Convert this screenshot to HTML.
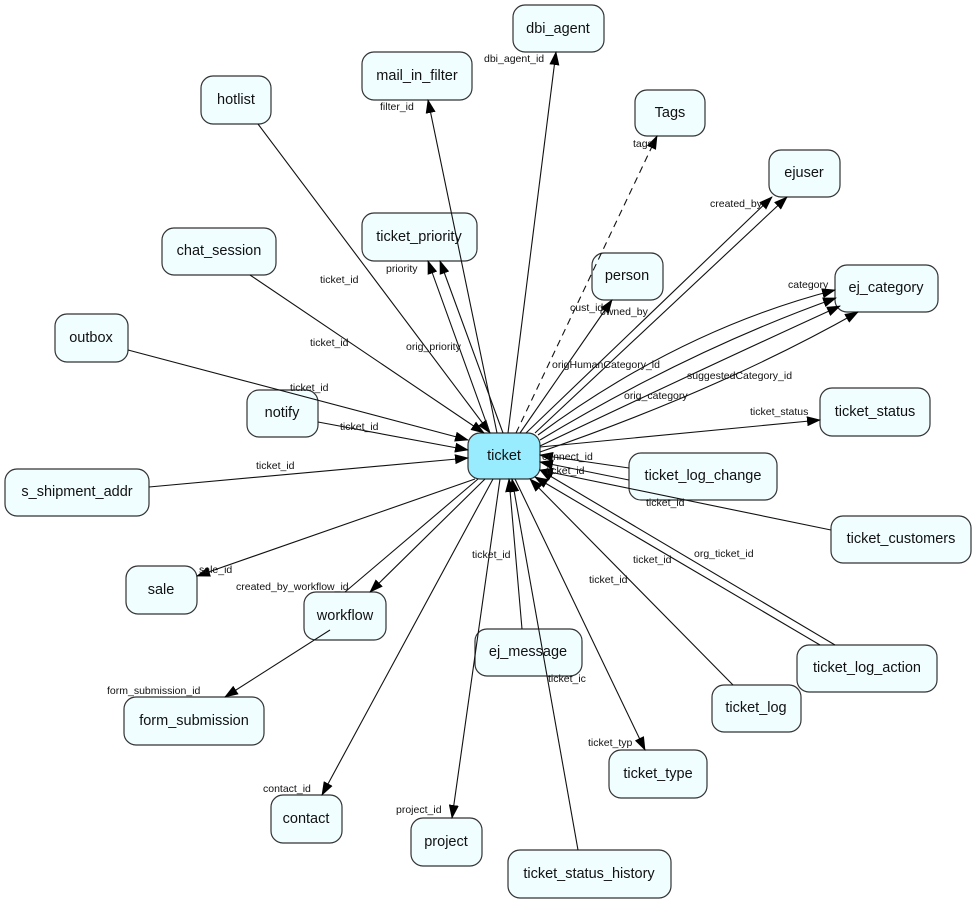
<!DOCTYPE html>
<html><head><meta charset="utf-8"><style>
html,body{margin:0;padding:0;background:#fff;}
svg{display:block;}
.n{fill:#f0feff;stroke:#333;stroke-width:1.2;}
.t{font-family:"Liberation Sans",Arial,sans-serif;font-size:14.5px;fill:#111;text-anchor:middle;dominant-baseline:central;}
.l{font-family:"Liberation Sans",Arial,sans-serif;font-size:10.5px;fill:#111;}
line,path{stroke:#111;stroke-width:1.1;fill:none;}
</style></head><body>
<svg width="976" height="904" viewBox="0 0 976 904" xmlns="http://www.w3.org/2000/svg">
<defs><marker id="a" markerWidth="14" markerHeight="10" refX="13" refY="5" orient="auto" markerUnits="userSpaceOnUse"><path d="M0,0 L14,5 L0,10 z" style="fill:#000;stroke:none"/></marker></defs>
<g>
<rect x="468" y="433" width="72" height="46" rx="12" style="fill:#99ecfd;stroke:#333;stroke-width:1.2"/><text class="t" x="504" y="456">ticket</text>
<rect class="n" x="513" y="5" width="91" height="47" rx="12"/><text class="t" x="558" y="29">dbi_agent</text>
<rect class="n" x="362" y="52" width="110" height="48" rx="12"/><text class="t" x="417" y="76">mail_in_filter</text>
<rect class="n" x="201" y="76" width="70" height="48" rx="12"/><text class="t" x="236" y="100">hotlist</text>
<rect class="n" x="635" y="90" width="70" height="46" rx="12"/><text class="t" x="670" y="113">Tags</text>
<rect class="n" x="769" y="150" width="71" height="47" rx="12"/><text class="t" x="804" y="173">ejuser</text>
<rect class="n" x="362" y="213" width="115" height="48" rx="12"/><text class="t" x="419" y="237">ticket_priority</text>
<rect class="n" x="162" y="228" width="114" height="47" rx="12"/><text class="t" x="219" y="251">chat_session</text>
<rect class="n" x="592" y="253" width="71" height="47" rx="12"/><text class="t" x="627" y="276">person</text>
<rect class="n" x="835" y="265" width="103" height="47" rx="12"/><text class="t" x="886" y="288">ej_category</text>
<rect class="n" x="55" y="314" width="73" height="48" rx="12"/><text class="t" x="91" y="338">outbox</text>
<rect class="n" x="247" y="390" width="71" height="47" rx="12"/><text class="t" x="282" y="413">notify</text>
<rect class="n" x="820" y="388" width="110" height="48" rx="12"/><text class="t" x="875" y="412">ticket_status</text>
<rect class="n" x="629" y="453" width="148" height="47" rx="12"/><text class="t" x="703" y="476">ticket_log_change</text>
<rect class="n" x="5" y="469" width="144" height="47" rx="12"/><text class="t" x="77" y="492">s_shipment_addr</text>
<rect class="n" x="831" y="516" width="140" height="47" rx="12"/><text class="t" x="901" y="539">ticket_customers</text>
<rect class="n" x="126" y="566" width="71" height="48" rx="12"/><text class="t" x="161" y="590">sale</text>
<rect class="n" x="304" y="592" width="82" height="48" rx="12"/><text class="t" x="345" y="616">workflow</text>
<rect class="n" x="475" y="629" width="107" height="47" rx="12"/><text class="t" x="528" y="652">ej_message</text>
<rect class="n" x="797" y="645" width="140" height="47" rx="12"/><text class="t" x="867" y="668">ticket_log_action</text>
<rect class="n" x="124" y="697" width="140" height="48" rx="12"/><text class="t" x="194" y="721">form_submission</text>
<rect class="n" x="712" y="685" width="89" height="47" rx="12"/><text class="t" x="756" y="708">ticket_log</text>
<rect class="n" x="609" y="750" width="98" height="48" rx="12"/><text class="t" x="658" y="774">ticket_type</text>
<rect class="n" x="271" y="795" width="71" height="48" rx="12"/><text class="t" x="306" y="819">contact</text>
<rect class="n" x="411" y="818" width="71" height="48" rx="12"/><text class="t" x="446" y="842">project</text>
<rect class="n" x="508" y="850" width="163" height="48" rx="12"/><text class="t" x="589" y="874">ticket_status_history</text>
</g>
<g>
<line x1="508" y1="433" x2="556" y2="52" marker-end="url(#a)"/>
<line x1="497" y1="433" x2="428" y2="100" marker-end="url(#a)"/>
<line x1="258" y1="124" x2="490" y2="433" marker-end="url(#a)"/>
<line x1="516" y1="433" x2="657" y2="136" stroke-dasharray="7,5" marker-end="url(#a)"/>
<line x1="526" y1="433" x2="772" y2="197" marker-end="url(#a)"/>
<line x1="535" y1="433" x2="787" y2="197" marker-end="url(#a)"/>
<line x1="490" y1="433" x2="428" y2="261" marker-end="url(#a)"/>
<line x1="503" y1="433" x2="440" y2="261" marker-end="url(#a)"/>
<line x1="250" y1="275" x2="484" y2="433" marker-end="url(#a)"/>
<line x1="520" y1="433" x2="612" y2="300" marker-end="url(#a)"/>
<path d="M538,435 Q680,330 835,290" marker-end="url(#a)"/>
<path d="M540,440 Q690,350 836,298" marker-end="url(#a)"/>
<path d="M540,446 Q700,370 840,306" marker-end="url(#a)"/>
<path d="M540,452 Q720,390 858,312" marker-end="url(#a)"/>
<line x1="128" y1="350" x2="468" y2="440" marker-end="url(#a)"/>
<line x1="318" y1="422" x2="468" y2="450" marker-end="url(#a)"/>
<line x1="540" y1="447" x2="820" y2="420" marker-end="url(#a)"/>
<line x1="629" y1="468" x2="540" y2="455" marker-end="url(#a)"/>
<line x1="629" y1="480" x2="540" y2="462" marker-end="url(#a)"/>
<line x1="831" y1="530" x2="540" y2="470" marker-end="url(#a)"/>
<line x1="149" y1="487" x2="468" y2="458" marker-end="url(#a)"/>
<line x1="475" y1="479" x2="197" y2="576" marker-end="url(#a)"/>
<line x1="485" y1="479" x2="370" y2="592" marker-end="url(#a)"/>
<line x1="345" y1="592" x2="478" y2="479"/>
<line x1="330" y1="630" x2="225" y2="697" marker-end="url(#a)"/>
<line x1="493" y1="479" x2="322" y2="795" marker-end="url(#a)"/>
<line x1="500" y1="479" x2="452" y2="818" marker-end="url(#a)"/>
<line x1="522" y1="629" x2="509" y2="479" marker-end="url(#a)"/>
<line x1="578" y1="850" x2="512" y2="479" marker-end="url(#a)"/>
<line x1="515" y1="479" x2="645" y2="750" marker-end="url(#a)"/>
<line x1="733" y1="685" x2="530" y2="479" marker-end="url(#a)"/>
<line x1="820" y1="645" x2="535" y2="477" marker-end="url(#a)"/>
<line x1="835" y1="645" x2="540" y2="470" marker-end="url(#a)"/>
</g>
<g>
<text class="l" x="484" y="62">dbi_agent_id</text>
<text class="l" x="380" y="110">filter_id</text>
<text class="l" x="633" y="147">tags</text>
<text class="l" x="710" y="207">created_by</text>
<text class="l" x="788" y="288">category</text>
<text class="l" x="320" y="283">ticket_id</text>
<text class="l" x="386" y="272">priority</text>
<text class="l" x="406" y="350">orig_priority</text>
<text class="l" x="310" y="346">ticket_id</text>
<text class="l" x="570" y="311">cust_id</text>
<text class="l" x="600" y="315">owned_by</text>
<text class="l" x="552" y="368">origHumanCategory_id</text>
<text class="l" x="687" y="379">suggestedCategory_id</text>
<text class="l" x="624" y="399">orig_category</text>
<text class="l" x="290" y="391">ticket_id</text>
<text class="l" x="340" y="430">ticket_id</text>
<text class="l" x="750" y="415">ticket_status</text>
<text class="l" x="542" y="460">connect_id</text>
<text class="l" x="546" y="474">ticket_id</text>
<text class="l" x="646" y="506">ticket_id</text>
<text class="l" x="256" y="469">ticket_id</text>
<text class="l" x="199" y="573">sale_id</text>
<text class="l" x="236" y="590">created_by_workflow_id</text>
<text class="l" x="107" y="694">form_submission_id</text>
<text class="l" x="472" y="558">ticket_id</text>
<text class="l" x="633" y="563">ticket_id</text>
<text class="l" x="694" y="557">org_ticket_id</text>
<text class="l" x="589" y="583">ticket_id</text>
<text class="l" x="548" y="682">ticket_ic</text>
<text class="l" x="588" y="746">ticket_typ</text>
<text class="l" x="263" y="792">contact_id</text>
<text class="l" x="396" y="813">project_id</text>
</g>
</svg>
</body></html>
